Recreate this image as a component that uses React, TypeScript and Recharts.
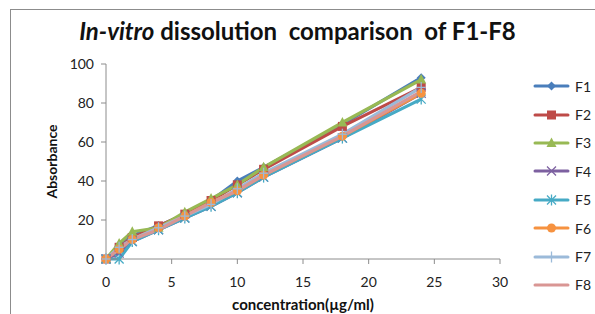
import React from "react";
import { LineChart, Line, XAxis, YAxis } from "recharts";

// concentration (µg/ml) sample points
const concentration = [0, 1, 2, 4, 6, 8, 10, 12, 18, 24];

const f1 = [0, 7, 12, 17, 23, 30, 40, 47, 69, 93];
const f2 = [0, 6, 11, 17, 23, 30, 38, 46, 68, 88];
const f3 = [0, 8, 14, 16, 24, 31, 38, 47, 70, 92];
const f4 = [0, 3, 9, 15, 21, 27, 34, 42, 62, 85];
const f5 = [0, 0, 9, 15, 21, 27, 34, 42, 62, 82];
const f6 = [0, 5, 10, 16, 22, 29, 35, 43, 63, 85];
const f7 = [0, 6, 10, 16, 22, 28, 36, 44, 64, 88];
const f8 = [0, 5, 10, 15, 22, 29, 35, 43, 63, 86];

const xTicks = [0, 5, 10, 15, 20, 25, 30];
const yTicks = [0, 20, 40, 60, 80, 100];

const series = [
  { key: "F1", values: f1, color: "#4A7EBB", marker: "diamond" },
  { key: "F2", values: f2, color: "#BE4B48", marker: "square" },
  { key: "F3", values: f3, color: "#98B954", marker: "triangle" },
  { key: "F4", values: f4, color: "#7D60A0", marker: "x" },
  { key: "F5", values: f5, color: "#46AAC5", marker: "star" },
  { key: "F6", values: f6, color: "#F69240", marker: "circle" },
  { key: "F7", values: f7, color: "#9BBAD9", marker: "plus" },
  { key: "F8", values: f8, color: "#D99694", marker: "none" },
];

const data = concentration.map((c, i) => {
  const row: Record<string, number> = { c };
  series.forEach((s) => (row[s.key] = s.values[i]));
  return row;
});

const FONT = "Lato, 'Liberation Sans', sans-serif";

function Marker({ type, cx, cy, color }: { type: string; cx: number; cy: number; color: string }) {
  const r = 4.5;
  switch (type) {
    case "diamond":
      return <polygon points={`${cx},${cy - r} ${cx + r},${cy} ${cx},${cy + r} ${cx - r},${cy}`} fill={color} />;
    case "square":
      return <rect x={cx - r} y={cy - r} width={r * 2} height={r * 2} fill={color} />;
    case "triangle":
      return <polygon points={`${cx},${cy - r - 1} ${cx + r + 0.5},${cy + r - 0.5} ${cx - r - 0.5},${cy + r - 0.5}`} fill={color} />;
    case "x":
      return (
        <g stroke={color} strokeWidth={1.3}>
          <line x1={cx - r} y1={cy - r} x2={cx + r} y2={cy + r} />
          <line x1={cx - r} y1={cy + r} x2={cx + r} y2={cy - r} />
        </g>
      );
    case "star":
      return (
        <g stroke={color} strokeWidth={1.3}>
          <line x1={cx - r} y1={cy - r} x2={cx + r} y2={cy + r} />
          <line x1={cx - r} y1={cy + r} x2={cx + r} y2={cy - r} />
          <line x1={cx} y1={cy - r - 1} x2={cx} y2={cy + r + 1} />
        </g>
      );
    case "circle":
      return <circle cx={cx} cy={cy} r={r} fill={color} />;
    case "plus":
      return (
        <g stroke={color} strokeWidth={1.3}>
          <line x1={cx} y1={cy - r - 1} x2={cx} y2={cy + r + 1} />
          <line x1={cx - r} y1={cy} x2={cx + r} y2={cy} />
        </g>
      );
    default:
      return <g />;
  }
}

const LegendBox = () => (
  <div style={{ position: "absolute", left: 533, top: 72, fontFamily: FONT, fontSize: 14, color: "#222" }}>
    {series.map((s) => (
      <div key={s.key} style={{ display: "flex", alignItems: "center", height: 28.4 }}>
        <svg width={37} height={12} style={{ marginRight: 5 }}>
          <line x1={2} y1={6} x2={35} y2={6} stroke={s.color} strokeWidth={3} strokeLinecap="round" />
          <Marker type={s.marker} cx={18.5} cy={6} color={s.color} />
        </svg>
        <span>{s.key}</span>
      </div>
    ))}
  </div>
);

export default function App() {
  return (
    <div style={{ position: "absolute", left: 0, top: 0, width: 595, height: 314, background: "#fff", overflow: "hidden" }}>
      <div
        style={{
          position: "absolute",
          left: 10,
          top: 9,
          width: 600,
          height: 320,
          borderLeft: "1px solid #8c8c8c",
          borderTop: "1px solid #8c8c8c",
        }}
      />
      <div
        style={{
          position: "absolute",
          left: 0,
          top: 16,
          width: 595,
          textAlign: "center",
          fontFamily: FONT,
          fontWeight: "bold",
          fontSize: 24,
          color: "#111",
          whiteSpace: "pre",
        }}
      >
        <i>In-vitro</i>{" dissolution  comparison  of F1-F8"}
      </div>
      <LineChart
        width={595}
        height={314}
        data={data}
        margin={{ top: 64, right: 95, bottom: 4, left: 56 }}
        style={{ position: "absolute", left: 0, top: 0 }}
      >
        <XAxis
          dataKey="c"
          type="number"
          domain={[0, 30]}
          ticks={xTicks}
          height={51}
          stroke="#8c8c8c"
          tickSize={5}
          tick={{ fill: "#222", fontSize: 14, fontFamily: FONT }}
          tickMargin={13}
          label={{
            value: "concentration(µg/ml)",
            position: "insideBottom",
            offset: 0,
            fill: "#111",
            fontSize: 15,
            fontWeight: "bold",
            fontFamily: FONT,
          }}
        />
        <YAxis
          type="number"
          domain={[0, 100]}
          ticks={yTicks}
          width={50}
          stroke="#8c8c8c"
          tickSize={5}
          tickMargin={7}
          tick={{ fill: "#222", fontSize: 14, fontFamily: FONT }}
          label={{
            value: "Absorbance",
            angle: -90,
            position: "insideLeft",
            offset: -4,
            style: { textAnchor: "middle" },
            fill: "#111",
            fontSize: 14,
            fontWeight: "bold",
            fontFamily: FONT,
          }}
        />
        {series.map((s) => (
          <Line
            key={s.key}
            dataKey={s.key}
            stroke={s.color}
            strokeWidth={3.2}
            isAnimationActive={false}
            dot={(p: any) => <Marker key={`${s.key}-${p.index}`} type={s.marker} cx={p.cx} cy={p.cy} color={s.color} />}
            activeDot={false}
          />
        ))}
      </LineChart>
      <LegendBox />
    </div>
  );
}
